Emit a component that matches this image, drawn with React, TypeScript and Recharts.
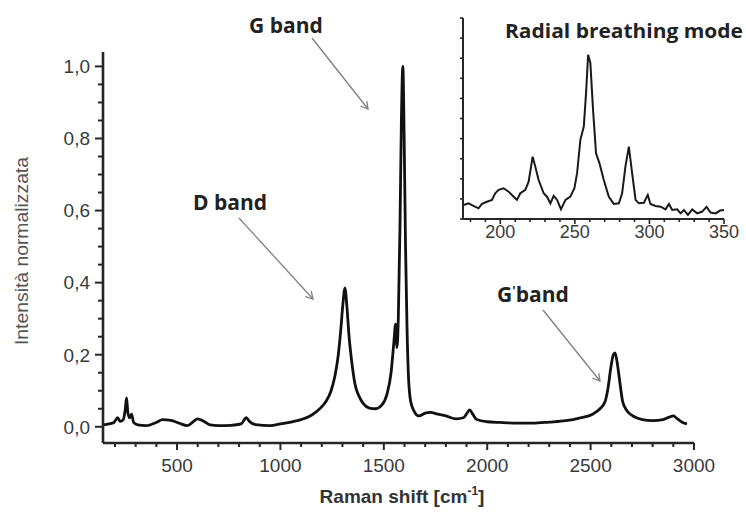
import { Line, LineChart, XAxis, YAxis } from "recharts"

// Raman spectrum of the sample (normalised to the G band)
const ramanShift = [
  145, 170, 195, 213, 225, 240, 250, 256, 262, 270, 280, 290, 310, 350, 400, 430, 470, 510, 550, 580,
  600, 630, 660, 700, 760, 810, 835, 850, 880, 950, 1000, 1050, 1100, 1150, 1190, 1220, 1245, 1265,
  1280, 1292, 1302, 1312, 1322, 1332, 1345, 1360, 1380, 1400, 1430, 1460, 1490, 1515, 1535, 1548,
  1557, 1564, 1570, 1578, 1585, 1592, 1598, 1605, 1612, 1620, 1630, 1645, 1670, 1700, 1725, 1760,
  1800, 1850, 1885, 1905, 1915, 1930, 1950, 2000, 2060, 2150, 2220, 2300, 2380, 2450, 2510, 2545,
  2570, 2585, 2598, 2610, 2618, 2628, 2640, 2655, 2675, 2705, 2750, 2800, 2850, 2880, 2900, 2920,
  2945, 2966,
]
const intensity = [
  0.005, 0.008, 0.012, 0.025, 0.015, 0.02, 0.05, 0.08, 0.04, 0.025, 0.035, 0.012, 0.005, 0.003, 0.012,
  0.02, 0.018, 0.01, 0.003, 0.015, 0.022, 0.015, 0.005, 0.003, 0.004, 0.008, 0.025, 0.015, 0.006,
  0.003, 0.008, 0.013, 0.02, 0.032, 0.05, 0.07, 0.1, 0.145, 0.2, 0.27, 0.34, 0.385, 0.33, 0.25, 0.18,
  0.12, 0.085, 0.065, 0.052, 0.05, 0.06, 0.09, 0.15, 0.23, 0.285, 0.22, 0.3, 0.55, 0.85, 1.0, 0.82,
  0.5, 0.28, 0.13, 0.07, 0.045, 0.03, 0.038, 0.04, 0.035, 0.03, 0.022, 0.025, 0.04, 0.047, 0.035,
  0.02, 0.014, 0.012, 0.01, 0.01, 0.013, 0.017, 0.025, 0.035, 0.05, 0.07, 0.11, 0.165, 0.2, 0.205,
  0.18, 0.13, 0.07, 0.045, 0.03, 0.02, 0.017, 0.02, 0.027, 0.03, 0.022, 0.012, 0.008,
]

// radial breathing mode detail (inset)
const rbmShift = [
  175.4, 178.7, 182, 185.4, 187.7, 191, 194.4, 196.6, 198.9, 202.2, 205.6, 209, 211.2, 213.4, 216.8,
  219, 221.7, 223.5, 225.7, 229.1, 231.3, 233.6, 235.8, 238.1, 240.7, 243.7, 247, 249.7, 251.5,
  253.7, 256, 257.5, 258.9, 260.4, 262.2, 264.2, 266.5, 269.4, 272.8, 276.1, 279.5, 281.7, 283.9,
  286.2, 288.4, 290.7, 292.9, 296.3, 298.9, 300.7, 304.1, 307.5, 310.8, 313.1, 315.3, 318.6, 320.9,
  323.1, 325.8, 328.7, 332.1, 335.4, 338.3, 341, 344.4, 347.3, 350,
]
const rbmIntensity = [
  0.7, 0.78, 0.65, 0.53, 0.75, 0.86, 0.95, 1.28, 1.45, 1.53, 1.36, 1.11, 0.95, 1.28, 1.45, 1.86, 3.1,
  2.6, 1.94, 1.28, 1.11, 0.78, 1.15, 0.95, 0.48, 0.95, 1.11, 1.53, 2.28, 3.94, 4.6, 6.26, 8.17, 7.76,
  5.43, 3.27, 2.77, 1.94, 1.11, 0.75, 0.78, 1.28, 2.61, 3.6, 2.28, 0.95, 0.78, 0.81, 1.2, 0.75, 0.65,
  0.61, 0.48, 0.75, 0.45, 0.48, 0.28, 0.45, 0.2, 0.48, 0.28, 0.37, 0.61, 0.32, 0.28, 0.42, 0.45,
]

const xTicks = [
  200, 300, 400, 500, 600, 700, 800, 900, 1000, 1100, 1200, 1300, 1400, 1500, 1600, 1700, 1800, 1900,
  2000, 2100, 2200, 2300, 2400, 2500, 2600, 2700, 2800, 2900, 3000,
]
const xLabels = [500, 1000, 1500, 2000, 2500, 3000]
const yTicks = [
  0, 0.05, 0.1, 0.15, 0.2, 0.25, 0.3, 0.35, 0.4, 0.45, 0.5, 0.55, 0.6, 0.65, 0.7, 0.75, 0.8, 0.85, 0.9,
  0.95, 1.0,
]
const yLabels = [0, 0.2, 0.4, 0.6, 0.8, 1.0]
const rbmXTicks = [180, 190, 200, 210, 220, 230, 240, 250, 260, 270, 280, 290, 300, 310, 320, 330, 340, 350]
const rbmXLabels = [200, 250, 300, 350]
const rbmYTicks = [0, 1, 2, 3, 4, 5, 6, 7, 8, 9, 10]

const spectrum = ramanShift.map((shift, i) => ({ shift, intensity: intensity[i] }))
const rbm = rbmShift.map((shift, i) => ({ shift, intensity: rbmIntensity[i] }))

const AXIS = "#262626"
const LABEL = "#3a3a3a"
const TICK_FONT = "'Liberation Sans', Arial, sans-serif"
const NOTE_FONT = "'Open Sans', 'Liberation Sans', sans-serif"

const isIn = (list: number[], v: number) => list.some((l) => Math.abs(l - v) < 1e-6)

function BottomTick(props: any) {
  const { x, y, payload, labels, fontSize, major, minor, dy, lw } = props
  const lab = isIn(labels, payload.value)
  return (
    <g>
      <line x1={x} x2={x} y1={y} y2={y + (lab ? major : minor)} stroke={AXIS} strokeWidth={lw} />
      {lab && (
        <text x={x} y={y + dy} textAnchor="middle" fontSize={fontSize} fill={LABEL} fontFamily={TICK_FONT}>
          {payload.value}
        </text>
      )}
    </g>
  )
}

function LeftTick(props: any) {
  const { x, y, payload, labels, fontSize, major, minor, dx, lw } = props
  const lab = isIn(labels, payload.value)
  return (
    <g>
      <line x1={x} x2={x - (lab ? major : minor)} y1={y} y2={y} stroke={AXIS} strokeWidth={lw} />
      {lab && (
        <text x={x - dx} y={y} dy="0.36em" textAnchor="end" fontSize={fontSize} fill={LABEL} fontFamily={TICK_FONT}>
          {payload.value.toFixed(1).replace(".", ",")}
        </text>
      )}
    </g>
  )
}

export default function App() {
  return (
    <div style={{ position: "absolute", left: 0, top: 0, width: 746, height: 512, background: "#fff" }}>
      <LineChart width={746} height={512} data={spectrum} margin={{ top: 52, right: 52, bottom: 29, left: 53 }}>
        <XAxis
          dataKey="shift"
          type="number"
          domain={[142, 3000]}
          ticks={xTicks}
          interval={0}
          height={40}
          tickSize={0}
          tickMargin={0}
          tickLine={false}
          axisLine={{ stroke: AXIS, strokeWidth: 2.6 }}
          tick={(p: any) => <BottomTick {...p} labels={xLabels} fontSize={19} major={7} minor={4} dy={29} lw={2} />}
          allowDataOverflow
        />
        <YAxis
          type="number"
          domain={[-0.045, 1.04]}
          ticks={yTicks}
          interval={0}
          width={50}
          tickSize={0}
          tickMargin={0}
          tickLine={false}
          axisLine={{ stroke: AXIS, strokeWidth: 2.6 }}
          tick={(p: any) => <LeftTick {...p} labels={yLabels} fontSize={19} major={8} minor={5} dx={13} lw={2} />}
          allowDataOverflow
        />
        <Line dataKey="intensity" type="monotone" stroke="#111" strokeWidth={2.8} dot={false} isAnimationActive={false} />
      </LineChart>

      <div style={{ position: "absolute", left: 440, top: 0 }}>
        <LineChart width={306} height={260} data={rbm} margin={{ top: 18, right: 22, bottom: 11, left: 13 }}>
          <XAxis
            dataKey="shift"
            type="number"
            domain={[175, 350]}
            ticks={rbmXTicks}
            interval={0}
            height={30}
            tickSize={0}
            tickMargin={0}
            tickLine={false}
            axisLine={{ stroke: AXIS, strokeWidth: 2 }}
            tick={(p: any) => (
              <BottomTick {...p} labels={rbmXLabels} fontSize={18} major={5} minor={3} dy={19} lw={1.6} />
            )}
          />
          <YAxis
            type="number"
            domain={[0, 10]}
            ticks={rbmYTicks}
            interval={0}
            width={10}
            tickSize={0}
            tickMargin={0}
            tickLine={false}
            axisLine={{ stroke: AXIS, strokeWidth: 2 }}
            tick={(p: any) => <LeftTick {...p} labels={[]} fontSize={12} major={3} minor={3} dx={6} lw={1.6} />}
          />
          <Line dataKey="intensity" type="linear" stroke="#1a1a1a" strokeWidth={2} dot={false} isAnimationActive={false} />
        </LineChart>
      </div>

      <svg width={746} height={512} style={{ position: "absolute", left: 0, top: 0, pointerEvents: "none" }}>
        <defs>
          <marker id="head" markerWidth={10} markerHeight={10} refX={8} refY={5} orient="auto" markerUnits="userSpaceOnUse">
            <path d="M1,1 L8,5 L1,9" fill="none" stroke="#808080" strokeWidth={1.3} />
          </marker>
        </defs>
        <text
          x={22}
          y={251}
          transform="rotate(-90 22 251)"
          textAnchor="middle"
          dy="0.35em"
          fontSize={18}
          textLength={188}
          lengthAdjust="spacingAndGlyphs"
          fill="#555"
          fontFamily={TICK_FONT}
        >
          Intensità normalizzata
        </text>
        <text x={402} y={503} textAnchor="middle" fontSize={19} fontWeight="bold" fill="#333" fontFamily={TICK_FONT}>
          Raman shift [cm<tspan dy={-8} fontSize={12}>-1</tspan>
          <tspan dy={8}>]</tspan>
        </text>

        <text x={249} y={33} fontSize={21} fontWeight="bold" fill="#222" fontFamily={NOTE_FONT}>G band</text>
        <line x1={312} y1={38} x2={368} y2={109} stroke="#808080" strokeWidth={1.3} markerEnd="url(#head)" />

        <text x={193} y={210} fontSize={21} fontWeight="bold" fill="#222" fontFamily={NOTE_FONT}>D band</text>
        <line x1={239} y1={218} x2={313} y2={299} stroke="#808080" strokeWidth={1.3} markerEnd="url(#head)" />

        <text x={497} y={302} fontSize={21} fontWeight="bold" fill="#222" fontFamily={NOTE_FONT}>
          G<tspan dy={-7} fontSize={13}>'</tspan>
          <tspan dy={7}>band</tspan>
        </text>
        <line x1={543} y1={310} x2={600} y2={381} stroke="#808080" strokeWidth={1.3} markerEnd="url(#head)" />

        <text x={505} y={38} fontSize={20} fontWeight="bold" fill="#222" fontFamily={NOTE_FONT} textLength={238} lengthAdjust="spacingAndGlyphs">
          Radial breathing mode
        </text>
      </svg>
    </div>
  )
}
